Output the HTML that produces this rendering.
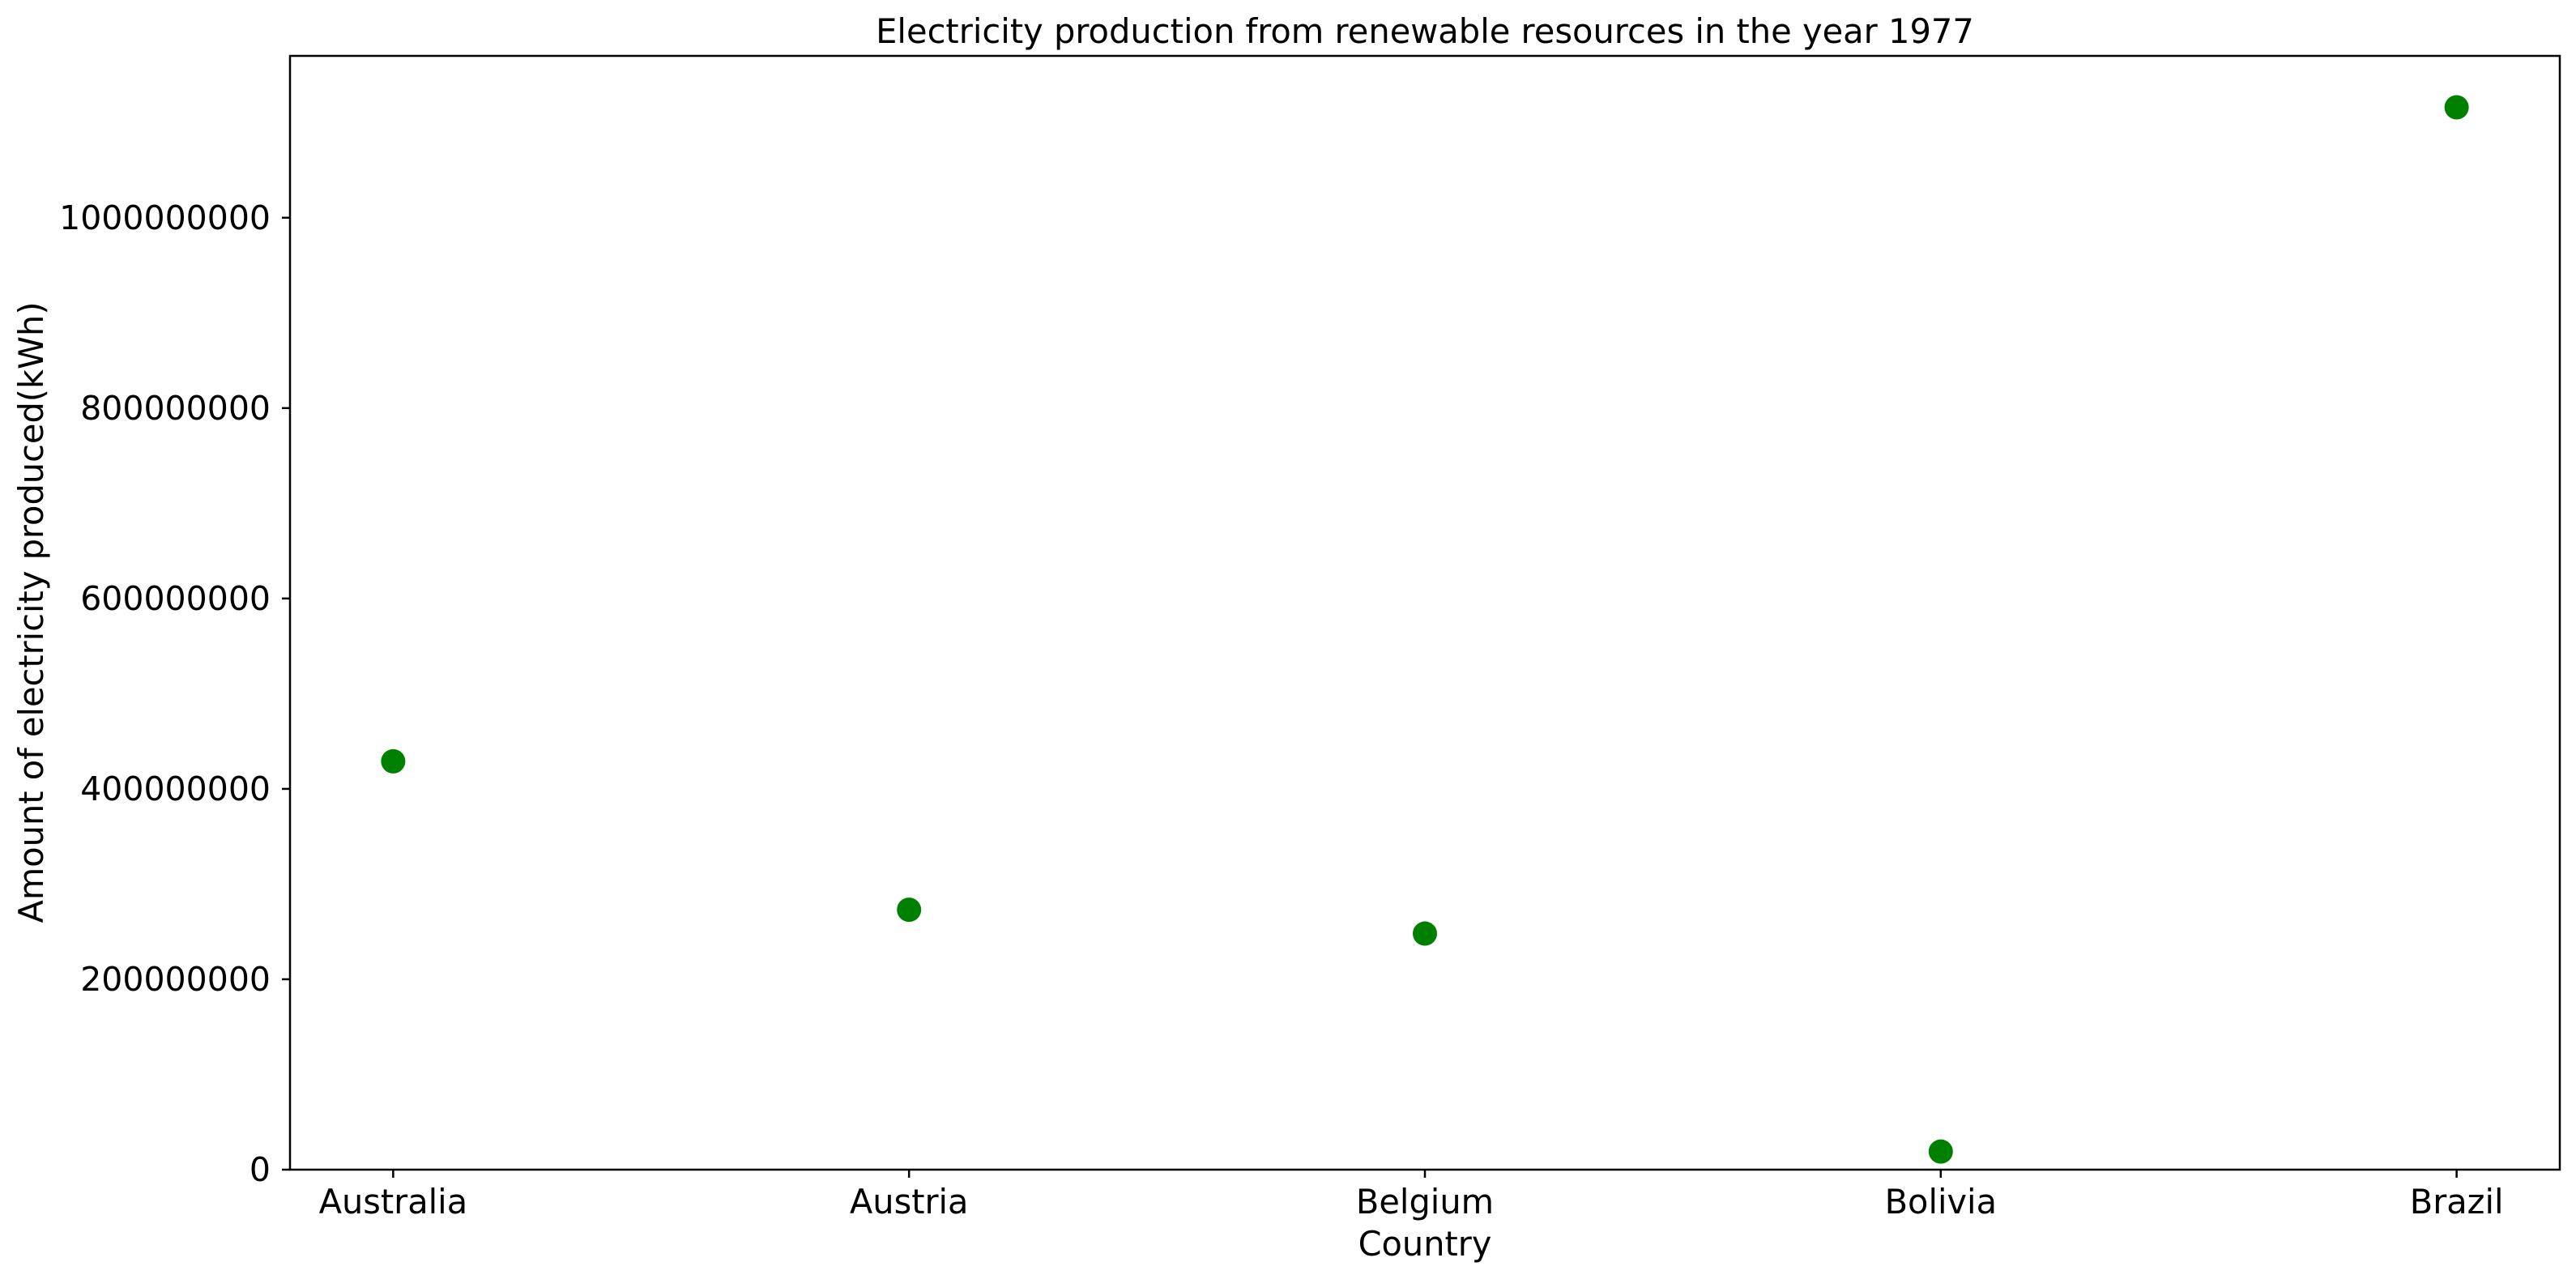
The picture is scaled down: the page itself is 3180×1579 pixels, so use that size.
<!DOCTYPE html>
<html><head><meta charset="utf-8"><style>
html,body{margin:0;padding:0;background:#fff;}
svg{display:block;font-family:"DejaVu Sans","Liberation Sans",sans-serif;}
</style></head><body>
<svg id="chart" width="3180" height="1579" viewBox="0 0 3180 1579" xmlns="http://www.w3.org/2000/svg">
<rect width="3180" height="1579" fill="#fff"/>
<text x="1759" y="53" font-size="41.6" text-anchor="middle">Electricity production from renewable resources in the year 1977</text>
<g id="marks"></g>
<g id="axes"></g>
<rect x="358" y="69" width="2802" height="1375" fill="none" stroke="#000" stroke-width="2.5"/>
<text x="1759" y="1550" font-size="41.5" text-anchor="middle">Country</text>
<text transform="translate(53,756) rotate(-90)" font-size="41.5" text-anchor="middle">Amount of electricity produced(kWh)</text>
</svg>
<script>
const categories = ["Australia","Austria","Belgium","Bolivia","Brazil"];
const values = [429000000, 273000000, 248000000, 19000000, 1116000000];
const yTicks = [0, 200000000, 400000000, 600000000, 800000000, 1000000000];
const yTickLabels = ["0","200000000","400000000","600000000","800000000","1000000000"];

const NS = "http://www.w3.org/2000/svg";
const L = 358, R = 3160, T = 69, B = 1444;
const yMax = 1170000000;
function xScale(i){ const n = categories.length - 1; const pad = 0.2*(R-L)/(n+0.4); return L + pad + i*((R-L-2*pad)/n); }
function yScale(v){ return B - (v/yMax)*(B-T); }
function mk(tag, attrs){ const e = document.createElementNS(NS, tag); for (const k in attrs) e.setAttribute(k, attrs[k]); return e; }

const marks = document.getElementById('marks');
values.forEach((v,i)=>{
  const c = mk('circle', {cx:xScale(i), cy:yScale(v), r:15, fill:'#008000'});
  
  
  marks.appendChild(c);
});
const axes = document.getElementById('axes');
categories.forEach((c,i)=>{
  const x = xScale(i);
  const t = mk('line', {x1:x, x2:x, y1:B, y2:B+10, stroke:'#000', 'stroke-width':2.5});
  
  
  axes.appendChild(t);
  const lab = mk('text', {x:x, y:1498, 'font-size':41.5, 'text-anchor':'middle'});
  lab.textContent = c;
  
  
  axes.appendChild(lab);
});
yTicks.forEach((v,i)=>{
  const y = yScale(v);
  const t = mk('line', {x1:L-10, x2:L, y1:y, y2:y, stroke:'#000', 'stroke-width':2.5});
  
  
  axes.appendChild(t);
  const lab = mk('text', {x:334, y:y+14, 'font-size':41, 'text-anchor':'end'});
  lab.textContent = yTickLabels[i];
  
  
  axes.appendChild(lab);
});
</script>
</body></html>
